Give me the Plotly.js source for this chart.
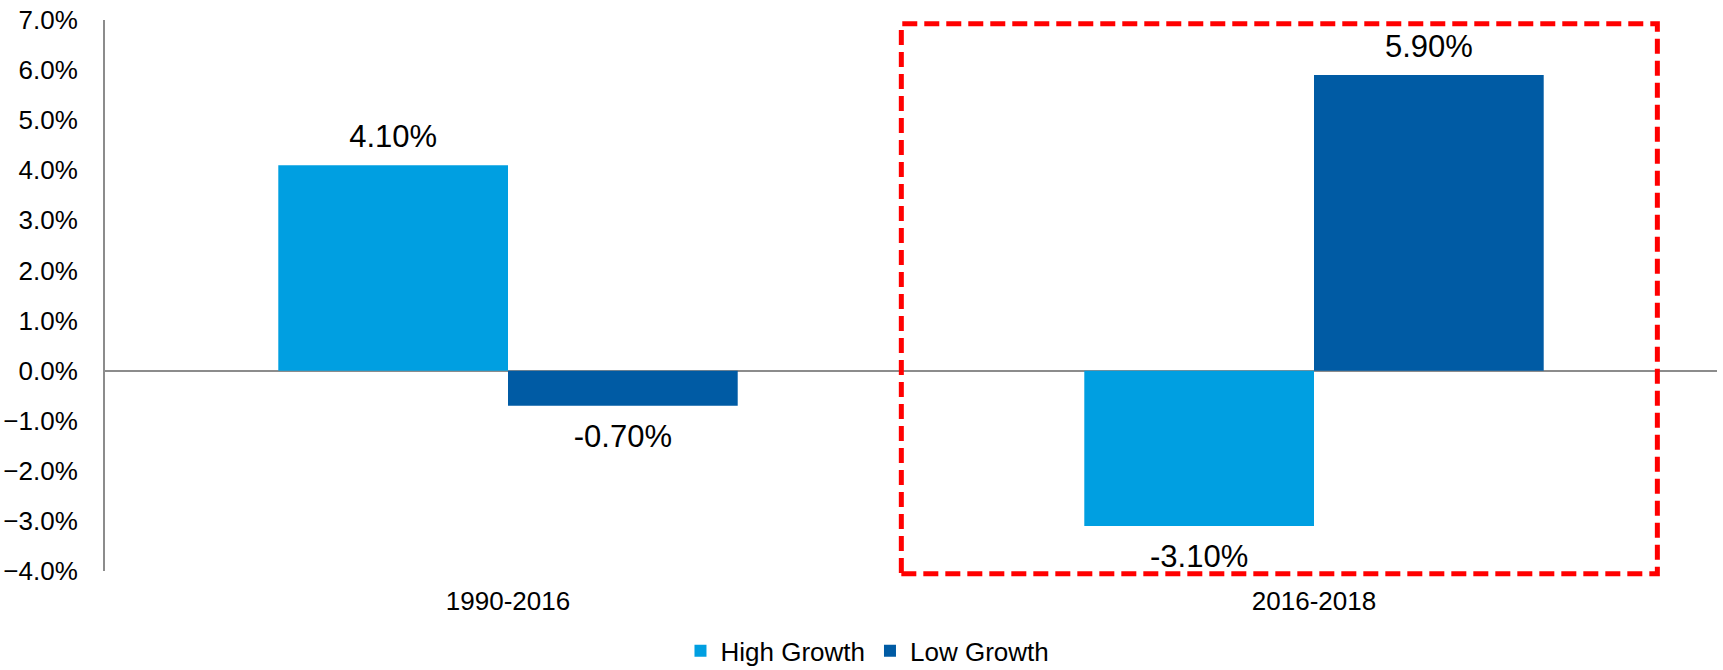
<!DOCTYPE html>
<html>
<head>
<meta charset="utf-8">
<script src="https://cdn.plot.ly/plotly-3.0.1.min.js"></script>
<style>html,body{margin:0;padding:0;background:#fff;overflow:hidden;}#chart{width:1723px;height:670px;}</style>
</head>
<body>
<div id="chart"></div>
<script>
const periods = ["1990-2016", "2016-2018"];
const highGrowth = [0.041, -0.031];
const lowGrowth = [-0.007, 0.059];
const seriesNames = ["High Growth", "Low Growth"];
const seriesColors = ["#009FE1", "#005BA4"];
const yTickValues = [-0.04, -0.03, -0.02, -0.01, 0, 0.01, 0.02, 0.03, 0.04, 0.05, 0.06, 0.07];

const FONT = "Liberation Sans, Arial, sans-serif";
const labelFont = {family: FONT, size: 31, color: "#000"};

function barTrace(name, values, color) {
  return {type: "bar", name: name, x: periods, y: values, marker: {color: color},
          hoverinfo: "skip", cliponaxis: false};
}
function labelTrace(values) {
  return {type: "scatter", mode: "markers+text", x: periods, y: values,
          text: values.map(v => (v * 100).toFixed(2) + "%"),
          textposition: values.map(v => v >= 0 ? "top center" : "bottom center"),
          textfont: labelFont,
          marker: {size: values.map(v => v >= 0 ? 15 : 27), opacity: 0},
          showlegend: false, hoverinfo: "skip", cliponaxis: false};
}

const traces = [
  barTrace(seriesNames[0], highGrowth, seriesColors[0]),
  barTrace(seriesNames[1], lowGrowth, seriesColors[1]),
  labelTrace(highGrowth),
  labelTrace(lowGrowth)
];

const layout = {
  width: 1723, height: 670,
  margin: {l: 105, r: 6, t: 20, b: 99, autoexpand: false},
  paper_bgcolor: "#fff", plot_bgcolor: "#fff",
  font: {family: FONT, size: 26, color: "#000"},
  barmode: "group", bargap: 0.43, bargroupgap: 0,
  scattermode: "group", scattergap: 0.43,
  showlegend: true,
  legend: {orientation: "h", x: 0.357, xanchor: "left", y: -0.145, yanchor: "middle",
           font: {family: FONT, size: 26, color: "#000"}, traceorder: "normal"},
  xaxis: {type: "category", showline: false, ticks: "", showgrid: false, zeroline: false,
          tickfont: {family: FONT, size: 26, color: "#000"}, ticklabelstandoff: 12},
  yaxis: {range: [-0.04, 0.07], tickvals: yTickValues, tickformat: ".1%", showgrid: false,
          zeroline: true, zerolinecolor: "#8c8c8c", zerolinewidth: 2,
          showline: true, linecolor: "#8c8c8c", linewidth: 2, ticks: "",
          tickfont: {family: FONT, size: 26, color: "#000"}, ticklabelstandoff: 20},
  shapes: [{type: "rect", xref: "paper", yref: "paper", x0: 0.494, x1: 0.963, y0: -0.005, y1: 0.993,
            line: {color: "#FF0000", width: 5, dash: "15px,7px"}, fillcolor: "rgba(0,0,0,0)", layer: "above"}]
};

Plotly.newPlot("chart", traces, layout, {displayModeBar: false, staticPlot: true});
</script>
</body>
</html>
